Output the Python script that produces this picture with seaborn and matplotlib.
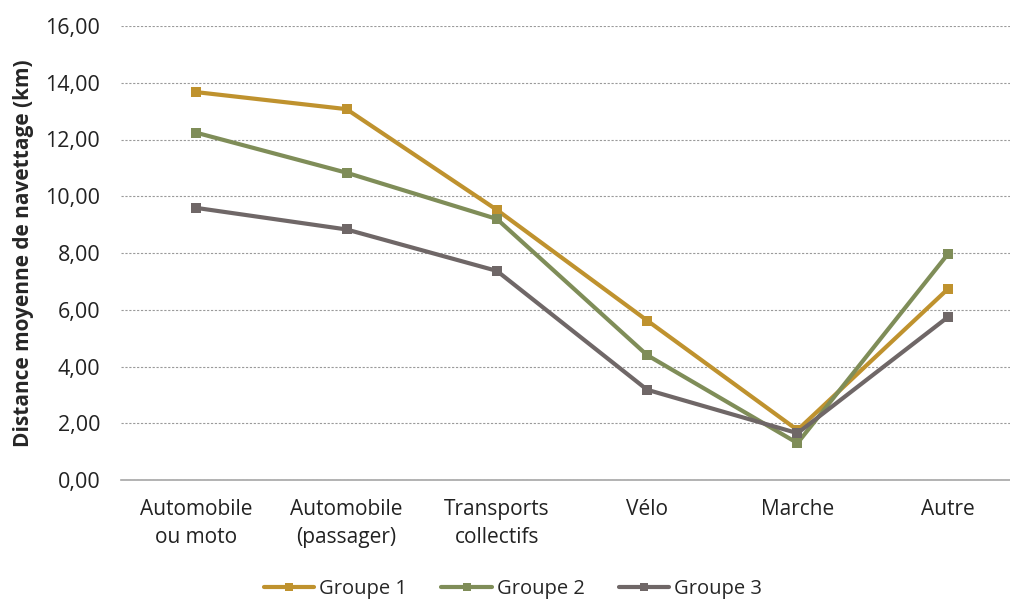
import matplotlib
matplotlib.use("Agg")
import matplotlib.pyplot as plt
import seaborn as sns
import pandas as pd
from matplotlib.ticker import FuncFormatter

categories = ["Automobile\nou moto", "Automobile\n(passager)", "Transports\ncollectifs", "Vélo", "Marche", "Autre"]
groupe1 = [13.67, 13.07, 9.52, 5.62, 1.76, 6.73]
groupe2 = [12.24, 10.83, 9.20, 4.40, 1.30, 7.96]
groupe3 = [9.59, 8.83, 7.37, 3.18, 1.65, 5.74]
series_names = ["Groupe 1", "Groupe 2", "Groupe 3"]
colors = ["#BF922E", "#7F8D58", "#6F6767"]

rows = []
for name, vals in zip(series_names, [groupe1, groupe2, groupe3]):
    for i, (c, v) in enumerate(zip(categories, vals)):
        rows.append({"pos": i, "cat": c, "val": v, "grp": name})
df = pd.DataFrame(rows)

sns.set_theme(style="white")
plt.rcParams['font.family'] = ['Open Sans', 'DejaVu Sans']

fig = plt.figure(figsize=(10.10, 5.99), dpi=100)
ax = fig.add_axes([121/1010, 119/599, (1023-121)/1010, 454/599])

sns.lineplot(data=df, x="pos", y="val", hue="grp", palette=colors, marker="s",
             markersize=7, markeredgewidth=0, linewidth=3, sort=False, ax=ax,
             legend=True)

ax.set_xlim(-0.5, 5.5)
ax.set_ylim(0, 16)
ax.set_yticks([0, 2, 4, 6, 8, 10, 12, 14, 16])
ax.yaxis.set_major_formatter(FuncFormatter(lambda v, p: f"{v:.2f}".replace(".", ",")))
ax.set_xticks(range(len(categories)))
ax.set_xticklabels(categories, fontsize=15, color="#222222", linespacing=1.4)
ax.tick_params(axis="y", labelsize=15.5, labelcolor="#222222", length=0, pad=15)
ax.tick_params(axis="x", length=0, pad=14)
ax.grid(axis="y", linestyle=(0, (2, 1.5)), color="#9a9a9a", linewidth=0.8)
ax.set_axisbelow(True)
for s in ["left", "right", "top"]:
    ax.spines[s].set_visible(False)
ax.spines["bottom"].set_color("#a6a6a6")
ax.spines["bottom"].set_linewidth(1.2)
ax.set_xlabel("")
ax.set_ylabel("Distance moyenne de navettage (km)", fontsize=15, fontweight="bold", labelpad=8)

handles, labels = ax.get_legend_handles_labels()
ax.legend(handles, labels, loc="center", bbox_to_anchor=(513/1010, 10/599),
          bbox_transform=fig.transFigure, ncol=3, frameon=False, fontsize=14.5,
          handlelength=2.5, columnspacing=1.7, handletextpad=0.25, markerscale=0.8)

fig.savefig("out.png", dpi=100)
